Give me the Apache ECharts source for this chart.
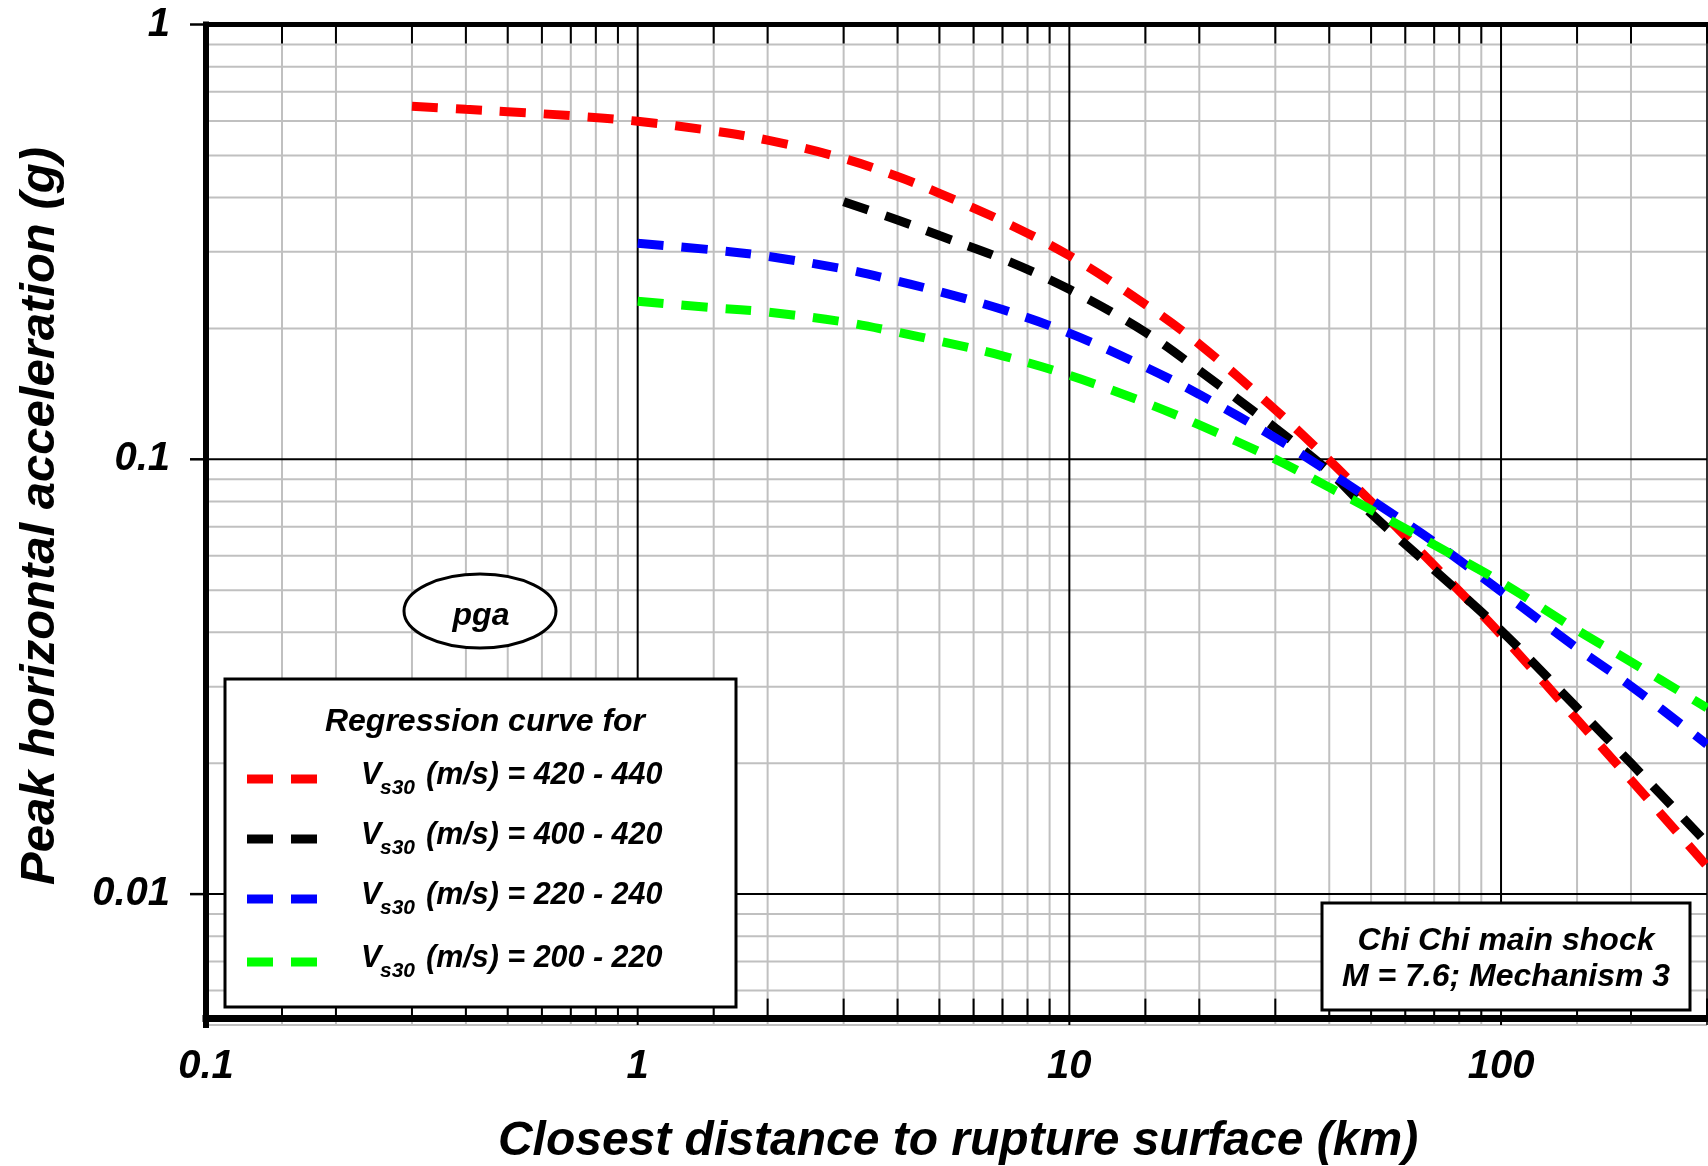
<!DOCTYPE html>
<html>
<head>
<meta charset="utf-8">
<script src="https://cdn.jsdelivr.net/npm/echarts@6/dist/echarts.min.js"></script>
<style>
  html, body { margin: 0; padding: 0; background: #fff; }
  #chart { width: 1708px; height: 1166px; }
</style>
</head>
<body>
<div id="chart"></div>
<script>
// Closest distance (km) and peak horizontal acceleration (g) for each Vs30 band
const distRed   = [0.3, 0.4, 0.5, 0.7, 1, 1.5, 2, 3, 4, 5, 7, 10, 15, 20, 30, 40, 50, 70, 100, 150, 200, 300];
const pgaRed    = [0.649, 0.638, 0.630, 0.617, 0.599, 0.569, 0.542, 0.492, 0.447, 0.409, 0.353, 0.294, 0.227, 0.184, 0.130, 0.0995, 0.0799, 0.0570, 0.0395, 0.0252, 0.0183, 0.0116];
const distBlack = [3, 4, 5, 7, 10, 15, 20, 30, 40, 50, 70, 100, 150, 200, 300];
const pgaBlack  = [0.391, 0.355, 0.327, 0.289, 0.246, 0.196, 0.160, 0.118, 0.0937, 0.0751, 0.0557, 0.0404, 0.0268, 0.0200, 0.0131];
const distBlue  = [1, 1.5, 2, 3, 4, 5, 7, 10, 15, 20, 30, 40, 50, 70, 100, 150, 200, 300];
const pgaBlue   = [0.314, 0.303, 0.293, 0.274, 0.257, 0.243, 0.221, 0.195, 0.163, 0.141, 0.112, 0.0934, 0.0807, 0.0645, 0.0497, 0.0368, 0.0301, 0.0221];
const distGreen = [1, 1.5, 2, 3, 4, 5, 7, 10, 15, 20, 30, 40, 50, 70, 100, 150, 200, 300];
const pgaGreen  = [0.231, 0.223, 0.218, 0.207, 0.196, 0.187, 0.173, 0.156, 0.135, 0.120, 0.100, 0.0862, 0.0765, 0.0636, 0.0522, 0.0405, 0.0342, 0.0268];

const seriesNames = ['420 - 440', '400 - 420', '220 - 240', '200 - 220'];
const seriesColors = ['#ff0000', '#000000', '#0000ff', '#00ff00'];

// Axis ranges and log-paper rulings
const X_MIN = 0.1, X_MAX = 300, Y_MIN = 0.0052, Y_MAX = 1;
const Y_RULE_MIN = 0.005;   // rulings run a little past the lower frame
const decadesX = [0.1, 1, 10, 100];
const decadesY = [0.001, 0.01, 0.1, 1];
const minorStepsX = [1.5, 2, 3, 4, 5, 6, 7, 8, 9];
const minorStepsY = [2, 3, 4, 5, 6, 7, 8, 9];
const majorX = [1, 10, 100];
const majorY = [0.01, 0.1];
const tickLabelsY = [0.01, 0.1, 1];

const FONT = '"Liberation Sans", Arial, Helvetica, sans-serif';
const GREY = '#c0c0c0';

function pairs(xs, ys) { return xs.map((x, i) => [x, ys[i]]); }

function isDecade(v) {
  const l = Math.log10(v);
  return Math.abs(l - Math.round(l)) < 1e-6;
}
function fmt(v) { return String(+v.toPrecision(3)); }

// Draws the log-paper grid, frame and tick marks through the axis scales
function renderPaper(params, api) {
  const bl = api.coord([X_MIN, Y_MIN]);
  const tr = api.coord([X_MAX, Y_MAX]);
  const left = bl[0], bottom = bl[1], right = tr[0], top = tr[1];
  const ruleBottom = api.coord([X_MIN, Y_RULE_MIN])[1];
  const kids = [];
  const seg = (x1, y1, x2, y2, color, w, cap) => kids.push({
    type: 'line', silent: true,
    shape: { x1, y1, x2, y2 },
    style: { stroke: color, lineWidth: w, lineCap: cap || 'butt' }
  });
  const minorXs = [];
  decadesX.forEach(d => minorStepsX.forEach(m => {
    const v = d * m;
    if (v > X_MIN && v <= X_MAX * 1.0001) minorXs.push(api.coord([v, Y_MIN])[0]);
  }));
  const minorYs = [];
  decadesY.forEach(d => minorStepsY.forEach(m => {
    const v = d * m;
    if (v > Y_RULE_MIN * 0.999 && v < Y_MAX) minorYs.push(api.coord([X_MIN, v])[1]);
  }));
  minorXs.forEach(x => seg(x, top, x, ruleBottom, GREY, 2));
  minorYs.forEach(y => seg(left, y, right, y, GREY, 2));
  majorX.forEach(v => { const x = api.coord([v, Y_MIN])[0]; seg(x, top, x, ruleBottom, '#000', 2); });
  majorY.forEach(v => { const y = api.coord([X_MIN, v])[1]; seg(left, y, right, y, '#000', 2); });
  // inward ticks along top and bottom edges
  minorXs.forEach(x => {
    seg(x, top, x, top + 19, '#000', 2);
    seg(x, bottom, x, bottom - 19, '#000', 2);
  });
  // outward ticks on the left edge
  tickLabelsY.forEach(v => { const y = api.coord([X_MIN, v])[1]; seg(left - 16, y, left, y, '#000', 2.5); });
  // frame
  seg(right, top, right, ruleBottom, '#000', 1.5);
  seg(left, top, right, top, '#000', 5, 'square');
  seg(left, bottom + 1, right, bottom + 1, '#000', 7, 'square');
  seg(left, top, left, ruleBottom, '#000', 6, 'square');
  return { type: 'group', children: kids };
}

const tickFont = { fontFamily: FONT, fontStyle: 'italic', fontWeight: 'bold', fontSize: 40, color: '#000' };

const curveData = [
  pairs(distRed, pgaRed),
  pairs(distBlack, pgaBlack),
  pairs(distBlue, pgaBlue),
  pairs(distGreen, pgaGreen)
];

const curves = curveData.map((d, i) => ({
  name: seriesNames[i],
  type: 'line',
  data: d,
  smooth: 0.35,
  showSymbol: false,
  symbol: 'none',
  z: 3,
  animation: false,
  silent: true,
  lineStyle: { color: seriesColors[i], width: 9, type: [26, 18], cap: 'butt' }
}));

// Legend block: title, swatches and Vs30 labels
const legendRowsY = [779, 839, 899, 962];
const legendGraphics = [
  { type: 'rect', z: 10, shape: { x: 225, y: 679, width: 511, height: 328 },
    style: { fill: '#fff', stroke: '#000', lineWidth: 3 } },
  { type: 'text', z: 11, x: 485, y: 722,
    style: { text: 'Regression curve for', font: `italic bold 32px ${FONT}`, fill: '#000', textAlign: 'center', textVerticalAlign: 'middle' } }
];
legendRowsY.forEach((ry, i) => {
  legendGraphics.push(
    { type: 'line', z: 11, shape: { x1: 247, y1: ry, x2: 318, y2: ry },
      style: { stroke: seriesColors[i], lineWidth: 9, lineDash: [26, 18], lineCap: 'butt' } },
    { type: 'text', z: 11, x: 361, y: ry - 3,
      style: { text: 'V', font: `italic bold 30.5px ${FONT}`, fill: '#000', textAlign: 'left', textVerticalAlign: 'middle' } },
    { type: 'text', z: 11, x: 380, y: ry + 9.5,
      style: { text: 's30', font: `italic bold 21px ${FONT}`, fill: '#000', textAlign: 'left', textVerticalAlign: 'middle' } },
    { type: 'text', z: 11, x: 426, y: ry - 3,
      style: { text: '(m/s) = ' + seriesNames[i], font: `italic bold 30.5px ${FONT}`, fill: '#000', textAlign: 'left', textVerticalAlign: 'middle' } }
  );
});

const noteGraphics = [
  { type: 'ellipse', z: 10, shape: { cx: 480, cy: 611, rx: 76, ry: 37 },
    style: { fill: '#fff', stroke: '#000', lineWidth: 3 } },
  { type: 'text', z: 11, x: 481, y: 616,
    style: { text: 'pga', font: `italic bold 32px ${FONT}`, fill: '#000', textAlign: 'center', textVerticalAlign: 'middle' } },
  { type: 'rect', z: 10, shape: { x: 1322, y: 903, width: 368, height: 107 },
    style: { fill: '#fff', stroke: '#000', lineWidth: 3 } },
  { type: 'text', z: 11, x: 1506, y: 941,
    style: { text: 'Chi Chi main shock', font: `italic bold 32px ${FONT}`, fill: '#000', textAlign: 'center', textVerticalAlign: 'middle' } },
  { type: 'text', z: 11, x: 1506, y: 977,
    style: { text: 'M = 7.6; Mechanism 3', font: `italic bold 32px ${FONT}`, fill: '#000', textAlign: 'center', textVerticalAlign: 'middle' } },
  { type: 'text', z: 11, x: 958, y: 1142,
    style: { text: 'Closest distance to rupture surface (km)', font: `italic bold 48px ${FONT}`, fill: '#000', textAlign: 'center', textVerticalAlign: 'middle' } },
  { type: 'text', z: 11, x: 40, y: 516, rotation: Math.PI / 2,
    style: { text: 'Peak horizontal acceleration (g)', font: `italic bold 49px ${FONT}`, fill: '#000', textAlign: 'center', textVerticalAlign: 'middle' } }
];

const option = {
  backgroundColor: '#fff',
  animation: false,
  grid: { left: 206, right: 1, top: 24.5, bottom: 148.4, containLabel: false },
  xAxis: {
    type: 'log', logBase: 10, min: X_MIN, max: X_MAX,
    axisLine: { show: false }, axisTick: { show: false }, splitLine: { show: false },
    axisLabel: Object.assign({ margin: 29, showMaxLabel: false,
      formatter: v => (isDecade(v) ? fmt(v) : '') }, tickFont)
  },
  yAxis: {
    type: 'log', logBase: 10, min: Y_MIN, max: Y_MAX,
    axisLine: { show: false }, axisTick: { show: false }, splitLine: { show: false },
    axisLabel: Object.assign({ margin: 36, showMinLabel: false,
      formatter: v => (isDecade(v) ? fmt(v) : '') }, tickFont)
  },
  series: [
    { type: 'custom', renderItem: renderPaper, data: [[X_MIN, Y_MIN]], silent: true, clip: false, z: 1, animation: false }
  ].concat(curves),
  graphic: { elements: legendGraphics.concat(noteGraphics) }
};

const chart = echarts.init(document.getElementById('chart'));
chart.setOption(option);
</script>
</body>
</html>
